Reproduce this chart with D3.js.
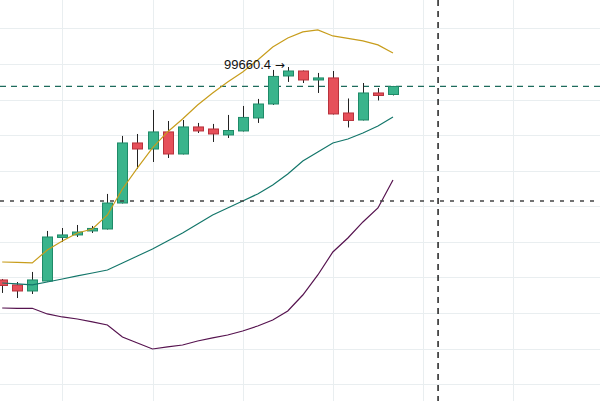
<!DOCTYPE html>
<html>
<head>
<meta charset="utf-8">
<script src="https://cdn.jsdelivr.net/npm/d3@7"></script>
<style>
  body { margin: 0; background: #fff; overflow: hidden; }
  svg { display: block; }
</style>
</head>
<body>
<div id="chart"></div>
<script>
var dates = ["2024-11-03", "2024-11-04", "2024-11-05", "2024-11-06", "2024-11-07", "2024-11-08", "2024-11-09",
  "2024-11-10", "2024-11-11", "2024-11-12", "2024-11-13", "2024-11-14", "2024-11-15", "2024-11-16", "2024-11-17",
  "2024-11-18", "2024-11-19", "2024-11-20", "2024-11-21", "2024-11-22", "2024-11-23", "2024-11-24", "2024-11-25",
  "2024-11-26", "2024-11-27", "2024-11-28", "2024-11-29"];
var open  = [75720, 75160, 74480, 75600, 80500, 80780, 81230, 81450, 84370, 91120, 90440, 92360, 89880, 92920,
  92690, 92020, 92470, 93930, 95500, 98650, 99210, 98200, 98430, 94490, 93700, 96740, 96570];
var high  = [75830, 75490, 76620, 81230, 81560, 81900, 81790, 85390, 91910, 92130, 94830, 93590, 93700, 93370,
  93260, 94270, 95280, 96070, 99330, 99660.4, 99270, 98990, 99210, 96120, 97860, 97300, 97530];
var low   = [74260, 73690, 74140, 75550, 79990, 80550, 81000, 81390, 84320, 88200, 88980, 89430, 89830, 92240,
  91230, 91680, 92410, 93370, 95390, 97980, 97860, 96740, 94320, 92860, 93650, 95900, 96460];
var close = [75100, 74480, 75720, 80550, 80780, 81110, 81510, 84370, 91120, 90440, 92360, 89880, 92920, 92470,
  92130, 92520, 93990, 95500, 98600, 99210, 98200, 98430, 94380, 93650, 96740, 96460, 97470];

var bbUpper  = [77740, 77690, 77630, 79090, 80100, 81000, 81450, 83030, 85950, 88310, 90560, 92360, 93820, 95390,
  96740, 97980, 99100, 100450, 101910, 102920, 103600, 103820, 103150, 102870, 102590, 102140, 101240];
var bbMiddle = [75380, 75270, 75160, 75490, 75830, 76170, 76500, 76840, 77630, 78420, 79200, 80100, 81000, 82010,
  83030, 83810, 84600, 85390, 86400, 87630, 89100, 90110, 91120, 91570, 92240, 93030, 94040];
var bbLower  = [72570, 72520, 72540, 71900, 71560, 71330, 71000, 70660, 69310, 68640, 67960, 68190, 68410, 68860,
  69200, 69530, 69980, 70550, 71220, 72230, 74030, 76280, 78870, 80440, 82240, 83810, 86960];

var gridPrices = [104000, 100000, 96000, 92000, 88000, 84000, 80000, 76000, 72000, 68000, 64000];
var gridDates = ["2024-11-07", "2024-11-13", "2024-11-19", "2024-11-25", "2024-12-01", "2024-12-07"];
var crossDate = "2024-12-02";
var crossPrice = 84600;

//////////////////////////////////////////////////////////////////////////////

var width = 600, height = 401;
var parse = d3.utcParse("%Y-%m-%d");

var candles = dates.map(function(d, i) {
  return { date: parse(d), o: open[i], h: high[i], l: low[i], c: close[i],
    up: bbUpper[i], mid: bbMiddle[i], lo: bbLower[i] };
});

var x = d3.scaleUtc()
  .domain([parse("2024-11-03"), parse("2024-12-13")])
  .range([2.2, 603.4]);

var y = d3.scaleLinear()
  .domain([60000, 108000])
  .range([419.8, -7.2]);

var svg = d3.select("#chart").append("svg")
  .attr("width", width)
  .attr("height", height);

// grid
svg.append("g").selectAll("line")
  .data(gridPrices)
  .enter().append("line")
  .attr("x1", 0).attr("x2", width)
  .attr("y1", function(d){ return Math.round(y(d)) + 0.5; })
  .attr("y2", function(d){ return Math.round(y(d)) + 0.5; })
  .attr("stroke", "#e9eef0");

svg.append("g").selectAll("line")
  .data(gridDates)
  .enter().append("line")
  .attr("y1", 0).attr("y2", height)
  .attr("x1", function(d){ return Math.round(x(parse(d))) + 0.5; })
  .attr("x2", function(d){ return Math.round(x(parse(d))) + 0.5; })
  .attr("stroke", "#e9eef0");

// last price line
var last = candles[candles.length - 1];
svg.append("line")
  .attr("x1", 0).attr("x2", width)
  .attr("y1", y(last.c)).attr("y2", y(last.c))
  .attr("stroke", "#1d6b5c")
  .attr("stroke-width", 1.2)
  .attr("stroke-dasharray", "6,5");

// candles
var bodyW = 10;
var g = svg.append("g").selectAll("g")
  .data(candles)
  .enter().append("g");

g.append("line")
  .attr("x1", function(d){ return Math.round(x(d.date)) + 0.5; })
  .attr("x2", function(d){ return Math.round(x(d.date)) + 0.5; })
  .attr("y1", function(d){ return y(d.h); })
  .attr("y2", function(d){ return y(d.l); })
  .attr("stroke", "#222");

g.append("rect")
  .attr("x", function(d){ return Math.round(x(d.date)) + 0.5 - bodyW / 2; })
  .attr("y", function(d){ return y(Math.max(d.o, d.c)); })
  .attr("width", bodyW)
  .attr("height", function(d){ return Math.max(1.5, Math.abs(y(d.o) - y(d.c))); })
  .attr("fill", function(d){ return d.c >= d.o ? "#3ab48c" : "#e6505a"; })
  .attr("stroke", function(d){ return d.c >= d.o ? "#1f8a68" : "#b8323c"; })
  .attr("stroke-width", 1);

// bands
function band(key, color) {
  var line = d3.line()
    .x(function(d){ return x(d.date); })
    .y(function(d){ return y(d[key]); });
  svg.append("path")
    .datum(candles)
    .attr("d", line)
    .attr("fill", "none")
    .attr("stroke", color)
    .attr("stroke-width", 1.2);
}
band("up", "#c89d1c");
band("mid", "#13766a");
band("lo", "#56134f");

// peak label
var peak = candles[d3.maxIndex(candles, function(d){ return d.h; })];
var label = svg.append("text")
  .attr("x", x(peak.date) - 3)
  .attr("y", y(peak.h) + 2)
  .attr("text-anchor", "end")
  .attr("font-family", "Liberation Sans, Arial, sans-serif")
  .attr("font-size", 13)
  .attr("fill", "#111");
label.append("tspan").text(d3.format(".1f")(peak.h) + " ");
label.append("tspan").attr("font-family", "DejaVu Sans").attr("font-size", 12).text("\u2192");

// crosshair
svg.append("line")
  .attr("x1", x(parse(crossDate))).attr("x2", x(parse(crossDate)))
  .attr("y1", 0).attr("y2", height)
  .attr("stroke", "#111")
  .attr("stroke-width", 1.4)
  .attr("stroke-dasharray", "6,5");

svg.append("line")
  .attr("x1", 0).attr("x2", width)
  .attr("y1", y(crossPrice)).attr("y2", y(crossPrice))
  .attr("stroke", "#444")
  .attr("stroke-width", 1.4)
  .attr("stroke-dasharray", "4,6");
</script>
</body>
</html>
